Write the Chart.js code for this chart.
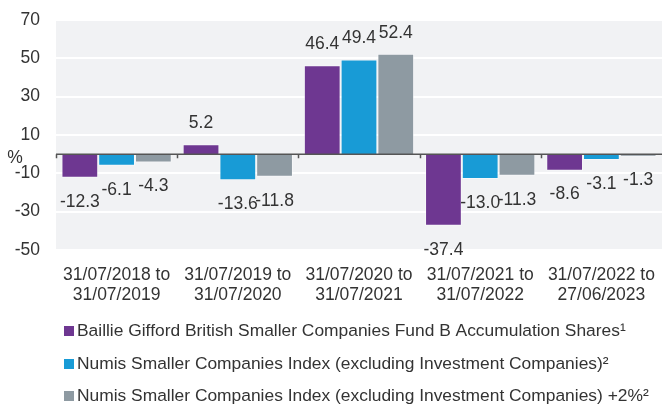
<!DOCTYPE html>
<html>
<head>
<meta charset="utf-8">
<script src="https://cdn.jsdelivr.net/npm/chart.js@4.4.0/dist/chart.umd.min.js"></script>
<style>
  html, body { margin: 0; padding: 0; background: #fff; }
  #wrap { width: 662px; height: 407px; }
</style>
</head>
<body>
<div id="wrap"><canvas id="myChart"></canvas></div>
<script>
const categories = [
  ['31/07/2018 to', '31/07/2019'],
  ['31/07/2019 to', '31/07/2020'],
  ['31/07/2020 to', '31/07/2021'],
  ['31/07/2021 to', '31/07/2022'],
  ['31/07/2022 to', '27/06/2023']
];
const fundValues = [-12.3, 5.2, 46.4, -37.4, -8.6];
const indexValues = [-6.1, -13.6, 49.4, -13.0, -3.1];
const indexPlusValues = [-4.3, -11.8, 52.4, -11.3, -1.3];
const seriesNames = [
  'Baillie Gifford British Smaller Companies Fund B Accumulation Shares\u00b9',
  'Numis Smaller Companies Index (excluding Investment Companies)\u00b2',
  'Numis Smaller Companies Index (excluding Investment Companies) +2%\u00b2'
];
const yMin = -50, yMax = 70, yStep = 20;

const FONT = '"Liberation Sans", Arial, Helvetica, sans-serif';
const TEXT = '#333333';

// grey plot area, zero line with small category ticks, % label
const plotPlugin = {
  id: 'plotPlugin',
  beforeDraw(chart) {
    const a = chart.chartArea, c = chart.ctx;
    c.save();
    c.fillStyle = '#f1f2f4';
    c.fillRect(a.left, a.top, a.right - a.left, a.bottom - a.top);
    c.restore();
  },
  afterDatasetsDraw(chart) {
    const a = chart.chartArea, c = chart.ctx;
    const x = chart.scales.x, y = chart.scales.y;
    const y0 = y.getPixelForValue(0);
    c.save();
    c.strokeStyle = '#555555';
    c.lineWidth = 1.5;
    c.beginPath();
    c.moveTo(a.left, y0);
    c.lineTo(a.right, y0);
    const w = (a.right - a.left) / categories.length;
    for (let i = 0; i < categories.length; i++) {
      const bx = Math.round(x.getPixelForValue(i) - w / 2) + 0.5;
      c.moveTo(bx, y0);
      c.lineTo(bx, y0 + 4);
    }
    c.stroke();
    c.fillStyle = TEXT;
    c.font = '17.5px ' + FONT;
    c.textAlign = 'center';
    c.textBaseline = 'middle';
    c.fillText('%', 15, y0 + 4);
    c.restore();
  }
};

// value labels above / below each bar
const valuePlugin = {
  id: 'valuePlugin',
  afterDatasetsDraw(chart) {
    const c = chart.ctx;
    c.save();
    c.fillStyle = TEXT;
    c.font = '17.5px ' + FONT;
    c.textAlign = 'center';
    c.textBaseline = 'middle';
    chart.data.datasets.forEach((ds, di) => {
      chart.getDatasetMeta(di).data.forEach((bar, i) => {
        const v = ds.data[i];
        const ty = v >= 0 ? bar.y - 21 : bar.y + 24;
        c.fillText(v.toFixed(1), bar.x, ty);
      });
    });
    c.restore();
  }
};

// stacked legend at the bottom left
const legendPlugin = {
  id: 'legendPlugin',
  afterDraw(chart) {
    const c = chart.ctx;
    const rows = [331, 364, 396];
    c.save();
    c.font = '17.4px ' + FONT;
    c.textAlign = 'left';
    c.textBaseline = 'middle';
    chart.data.datasets.forEach((ds, di) => {
      c.fillStyle = ds.backgroundColor;
      c.fillRect(64, rows[di] - 5, 10, 10);
      c.fillStyle = TEXT;
      c.fillText(ds.label, 77, rows[di]);
    });
    c.restore();
  }
};

const barStyle = {
  borderWidth: 1,
  borderColor: 'rgba(255,255,255,0.45)',
  categoryPercentage: 0.91,
  barPercentage: 1.0
};

let ctx = document.getElementById('myChart').getContext('2d');
let myChart = new Chart(ctx, {
  type: 'bar',
  data: {
    labels: categories,
    datasets: [
      Object.assign({ label: seriesNames[0], data: fundValues, backgroundColor: '#6e3791' }, barStyle),
      Object.assign({ label: seriesNames[1], data: indexValues, backgroundColor: '#189bd6' }, barStyle),
      Object.assign({ label: seriesNames[2], data: indexPlusValues, backgroundColor: '#8e9aa2' }, barStyle)
    ]
  },
  options: {
    responsive: true,
    maintainAspectRatio: false,
    animation: false,
    layout: { padding: { top: 20, right: 0, left: 0, bottom: 97 } },
    plugins: {
      legend: { display: false },
      tooltip: { enabled: false }
    },
    scales: {
      x: {
        grid: { display: false },
        border: { display: false },
        ticks: {
          color: TEXT,
          padding: 8,
          maxRotation: 0,
          autoSkip: false,
          font: { family: FONT, size: 17.5, lineHeight: 1.1 }
        },
        afterFit(scale) {
          scale.height = 60;
          scale.paddingLeft = 0;
          scale.paddingRight = 0;
        }
      },
      y: {
        min: yMin,
        max: yMax,
        grid: { color: '#ffffff', lineWidth: 2, drawTicks: false },
        border: { display: false },
        ticks: {
          stepSize: yStep,
          color: TEXT,
          padding: 16,
          font: { family: FONT, size: 17.5 }
        },
        afterFit(scale) {
          scale.width = 56;
          scale.paddingTop = 0;
          scale.paddingBottom = 0;
        }
      }
    }
  },
  plugins: [plotPlugin, valuePlugin, legendPlugin]
});
</script>
</body>
</html>
